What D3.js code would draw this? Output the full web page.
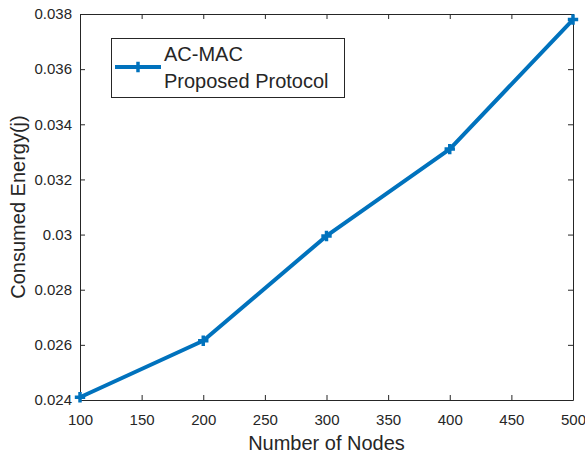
<!DOCTYPE html>
<html>
<head>
<meta charset="utf-8">
<script src="https://cdn.jsdelivr.net/npm/d3@7"></script>
<style>
  body { margin: 0; background: #fff; }
  svg { display: block; font-family: "Liberation Sans", Arial, sans-serif; }
</style>
</head>
<body>
<div id="chart"></div>
<script>
// data
const nodes = [100, 200, 300, 400, 500];
const energy = [0.0241, 0.02615, 0.02995, 0.0331, 0.0378];
const xTicks = [100, 150, 200, 250, 300, 350, 400, 450, 500];
const yTicks = [0.024, 0.026, 0.028, 0.03, 0.032, 0.034, 0.036, 0.038];
const yTickLabels = ["0.024", "0.026", "0.028", "0.03", "0.032", "0.034", "0.036", "0.038"];
const legendLines = ["AC-MAC", "Proposed Protocol"];

const width = 585, height = 455;
const plotLeft = 80, plotRight = 573, plotTop = 14, plotBottom = 400;
const blue = "#0072BD", axisColor = "#262626";

const svg = d3.select("#chart").append("svg")
    .attr("width", width)
    .attr("height", height);

const x = d3.scaleLinear().domain([100, 500]).range([plotLeft, plotRight]);
const y = d3.scaleLinear().domain([0.024, 0.038]).range([plotBottom, plotTop]);

// axes (matlab style, ticks inside, mirrored on top / right)
svg.append("g")
    .attr("transform", `translate(0,${plotBottom})`)
    .call(d3.axisBottom(x).tickValues(xTicks).tickSizeInner(-5).tickSizeOuter(0).tickPadding(14))
    .call(g => g.selectAll("text").attr("font-size", 15).attr("fill", axisColor));

svg.append("g")
    .attr("transform", `translate(0,${plotTop})`)
    .call(d3.axisTop(x).tickValues(xTicks).tickSizeInner(-5).tickSizeOuter(0).tickFormat(""));

svg.append("g")
    .attr("transform", `translate(${plotLeft},0)`)
    .call(d3.axisLeft(y).tickValues(yTicks).tickSizeInner(-5).tickSizeOuter(0).tickPadding(8)
        .tickFormat((d, i) => yTickLabels[i]))
    .call(g => g.selectAll("text").attr("font-size", 15).attr("fill", axisColor));

svg.append("g")
    .attr("transform", `translate(${plotRight},0)`)
    .call(d3.axisRight(y).tickValues(yTicks).tickSizeInner(-5).tickSizeOuter(0).tickFormat(""));

svg.selectAll(".domain").attr("stroke", axisColor);
svg.selectAll(".tick line").attr("stroke", axisColor);

// axis titles
svg.append("text")
    .attr("x", (plotLeft + plotRight) / 2)
    .attr("y", 450)
    .attr("text-anchor", "middle")
    .attr("font-size", 20)
    .attr("fill", axisColor)
    .text("Number of Nodes");

svg.append("text")
    .attr("transform", `translate(25,${(plotTop + plotBottom) / 2}) rotate(-90)`)
    .attr("text-anchor", "middle")
    .attr("font-size", 20)
    .attr("fill", axisColor)
    .text("Consumed Energy(j)");

// series
const pts = nodes.map((n, i) => [n, energy[i]]);

svg.append("path")
    .datum(pts)
    .attr("fill", "none")
    .attr("stroke", blue)
    .attr("stroke-width", 4)
    .attr("stroke-linejoin", "round")
    .attr("d", d3.line().x(d => x(d[0])).y(d => y(d[1])));

const plus = d3.symbol().type(d3.symbolCross).size(60);

svg.append("g")
    .selectAll("path")
    .data(pts)
    .enter().append("path")
    .attr("transform", d => `translate(${x(d[0])},${y(d[1])})`)
    .attr("d", plus)
    .attr("fill", blue);

// legend
const legend = svg.append("g");
legend.append("rect")
    .attr("x", 111.5).attr("y", 38.5)
    .attr("width", 233).attr("height", 59)
    .attr("fill", "#fff")
    .attr("stroke", axisColor);

legend.append("line")
    .attr("x1", 115).attr("x2", 161)
    .attr("y1", 67).attr("y2", 67)
    .attr("stroke", blue)
    .attr("stroke-width", 4);

legend.append("path")
    .attr("transform", "translate(138,67)")
    .attr("d", plus)
    .attr("fill", blue);

legend.selectAll("text")
    .data(legendLines)
    .enter().append("text")
    .attr("x", 164)
    .attr("y", (d, i) => 61 + i * 27)
    .attr("font-size", 20)
    .attr("fill", axisColor)
    .text(d => d);
</script>
</body>
</html>
